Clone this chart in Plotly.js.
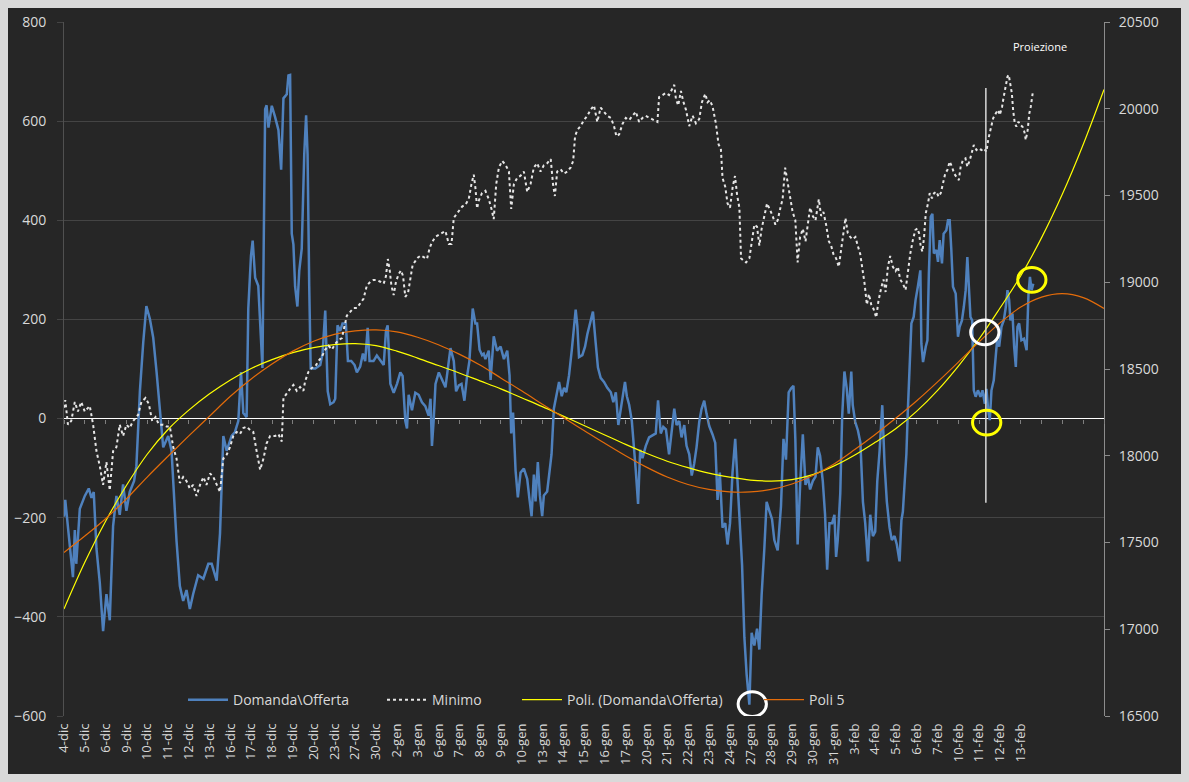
<!DOCTYPE html>
<html>
<head>
<meta charset="utf-8">
<script src="https://cdn.plot.ly/plotly-3.0.1.min.js"></script>
<style>
  html, body { margin: 0; padding: 0; background: #d9d9d9; }
  #chart { position: absolute; left: 8px; top: 8px; width: 1173px; height: 766px; }
</style>
</head>
<body>
<div id="chart"></div>
<script>
// day labels on the category axis (one per trading day)
var dayLabels = ["4-dic","5-dic","6-dic","9-dic","10-dic","11-dic","12-dic","13-dic","16-dic","17-dic",
  "18-dic","19-dic","20-dic","23-dic","27-dic","30-dic","2-gen","3-gen","6-gen","7-gen","8-gen","9-gen",
  "10-gen","13-gen","14-gen","15-gen","16-gen","17-gen","20-gen","21-gen","22-gen","23-gen","24-gen",
  "27-gen","28-gen","29-gen","30-gen","31-gen","3-feb","4-feb","5-feb","6-feb","7-feb","10-feb",
  "11-feb","12-feb","13-feb"];
var dayPos = dayLabels.map((d, i) => i);

// Domanda\Offerta: [day position, value] (left axis)
var domanda = [[0,-198],[0.06,-164],[0.43,-320],[0.52,-225],[0.59,-293],[0.76,-182],[1.00,-156],[1.19,-141],[1.32,-160],[1.43,-148],[1.56,-262],[1.72,-331],[1.88,-429],[2.04,-354],[2.20,-407],[2.36,-217],[2.52,-156],[2.68,-194],[2.84,-133],[3.00,-186],[3.16,-148],[3.37,-126],[3.48,-96],[3.65,56],[3.81,154],[3.96,227],[4.13,201],[4.29,163],[4.45,94],[4.61,11],[4.77,-58],[5.01,-35],[5.17,-65],[5.41,-247],[5.57,-338],[5.73,-368],[5.89,-346],[6.05,-384],[6.21,-354],[6.45,-316],[6.70,-323],[6.94,-293],[7.10,-293],[7.34,-327],[7.50,-232],[7.66,-35],[7.82,-65],[8.06,-35],[8.22,-27],[8.38,-5],[8.51,94],[8.62,11],[8.78,3],[8.86,222],[8.99,329],[9.07,359],[9.19,284],[9.34,268],[9.54,102],[9.67,624],[9.74,632],[9.83,587],[9.99,631],[10.15,608],[10.31,582],[10.44,502],[10.55,646],[10.71,654],[10.79,692],[10.87,693],[10.95,373],[11.03,351],[11.11,267],[11.22,226],[11.31,298],[11.43,343],[11.55,533],[11.64,612],[11.71,533],[11.79,267],[11.86,101],[12.08,101],[12.32,108],[12.43,131],[12.56,218],[12.68,55],[12.80,29],[12.96,33],[13.04,40],[13.15,188],[13.28,177],[13.39,192],[13.55,192],[13.65,116],[13.81,116],[13.97,108],[14.08,93],[14.24,105],[14.37,131],[14.48,116],[14.60,183],[14.69,116],[14.88,116],[15.04,127],[15.21,116],[15.37,108],[15.48,177],[15.56,188],[15.69,70],[15.85,52],[16.01,70],[16.17,93],[16.28,86],[16.41,-5],[16.49,-20],[16.57,48],[16.73,17],[16.89,52],[17.05,48],[17.21,33],[17.37,25],[17.53,6],[17.62,40],[17.69,-55],[17.77,-5],[17.86,70],[18.02,93],[18.17,78],[18.34,63],[18.58,142],[18.74,116],[18.85,55],[18.98,67],[19.11,70],[19.25,36],[19.38,86],[19.49,116],[19.65,222],[19.78,192],[19.86,192],[19.98,139],[20.10,128],[20.18,131],[20.26,120],[20.42,137],[20.51,78],[20.66,166],[20.82,137],[20.99,145],[21.15,120],[21.31,137],[21.42,87],[21.50,-30],[21.59,12],[21.71,-105],[21.82,-159],[21.95,-109],[22.11,-101],[22.27,-122],[22.38,-163],[22.48,-197],[22.59,-113],[22.67,-167],[22.78,-88],[22.88,-155],[22.99,-197],[23.07,-155],[23.23,-147],[23.35,-105],[23.44,-72],[23.55,20],[23.67,45],[23.80,74],[23.93,45],[24.04,62],[24.15,53],[24.28,87],[24.41,137],[24.52,178],[24.60,220],[24.68,187],[24.76,124],[24.92,128],[25.05,145],[25.16,170],[25.29,191],[25.43,216],[25.56,153],[25.67,103],[25.80,82],[25.96,74],[26.12,62],[26.29,53],[26.41,33],[26.53,53],[26.65,-13],[26.77,20],[26.88,53],[26.97,74],[27.06,45],[27.17,28],[27.30,-5],[27.41,-55],[27.49,-105],[27.60,-172],[27.70,-63],[27.81,-80],[27.97,-55],[28.13,-38],[28.29,-34],[28.45,-30],[28.56,37],[28.69,-30],[28.81,-17],[28.94,-22],[29.09,-72],[29.22,-22],[29.34,20],[29.45,-13],[29.58,-5],[29.69,-38],[29.82,-13],[29.93,-55],[30.06,-72],[30.18,-115],[30.30,-90],[30.41,-58],[30.54,-7],[30.65,19],[30.78,36],[30.89,10],[31.02,-15],[31.18,-32],[31.31,-49],[31.42,-164],[31.53,-109],[31.66,-220],[31.79,-211],[31.90,-254],[32.02,-211],[32.14,-109],[32.27,-41],[32.38,-126],[32.50,-211],[32.60,-296],[32.71,-441],[32.82,-517],[32.95,-577],[33.06,-432],[33.19,-458],[33.32,-424],[33.43,-466],[33.54,-356],[33.67,-262],[33.78,-168],[33.91,-186],[34.04,-203],[34.15,-245],[34.31,-266],[34.47,-177],[34.59,-41],[34.71,-83],[34.84,53],[34.96,61],[35.07,66],[35.16,-41],[35.27,-254],[35.40,-126],[35.52,-32],[35.65,-134],[35.76,-117],[35.87,-143],[36.00,-126],[36.13,-117],[36.24,-58],[36.35,-75],[36.48,-126],[36.59,-194],[36.69,-305],[36.80,-211],[36.93,-211],[37.04,-194],[37.12,-279],[37.20,-245],[37.32,-151],[37.41,2],[37.52,95],[37.63,61],[37.73,10],[37.85,95],[37.92,27],[38.04,-7],[38.17,-24],[38.29,-49],[38.41,-168],[38.52,-211],[38.65,-288],[38.76,-194],[38.89,-237],[39.00,-228],[39.10,-126],[39.21,-66],[39.34,27],[39.45,-92],[39.56,-168],[39.69,-220],[39.80,-245],[39.93,-237],[40.04,-254],[40.17,-288],[40.26,-205],[40.33,-188],[40.41,-124],[40.50,-71],[40.57,17],[40.66,124],[40.74,192],[40.85,205],[40.94,239],[41.05,266],[41.17,299],[41.22,151],[41.30,114],[41.43,145],[41.51,158],[41.58,292],[41.67,407],[41.75,413],[41.82,333],[41.94,340],[42.02,316],[42.10,360],[42.21,313],[42.29,373],[42.42,380],[42.50,400],[42.58,400],[42.66,340],[42.74,266],[42.87,252],[42.98,165],[43.06,185],[43.17,198],[43.26,225],[43.35,259],[43.43,326],[43.50,259],[43.58,205],[43.66,198],[43.74,57],[43.83,44],[43.94,57],[44.06,44],[44.16,57],[44.27,30],[44.35,60],[44.43,17],[44.51,-3],[44.59,57],[44.70,77],[44.78,118],[44.86,158],[44.96,145],[45.07,185],[45.18,198],[45.28,225],[45.36,259],[45.44,239],[45.50,198],[45.60,212],[45.68,145],[45.76,104],[45.84,185],[45.92,192],[46.03,158],[46.15,161],[46.28,138],[46.37,252],[46.44,286],[46.52,259],[46.60,272]];

// Minimo: [day position, value] (right axis)
var minimo = [[0,18277],[0.06,18321],[0.19,18179],[0.35,18201],[0.52,18310],[0.67,18255],[0.83,18310],[1.00,18255],[1.24,18287],[1.40,18179],[1.56,18027],[1.72,17941],[1.88,17832],[2.04,17964],[2.20,17800],[2.36,18027],[2.52,18050],[2.68,18179],[2.84,18114],[3.00,18179],[3.16,18160],[3.32,18200],[3.56,18235],[3.72,18310],[3.92,18333],[4.08,18298],[4.24,18200],[4.40,18223],[4.56,18179],[4.77,18179],[4.93,18168],[5.09,18168],[5.25,18050],[5.41,17984],[5.57,17843],[5.73,17877],[5.89,17854],[6.05,17811],[6.21,17832],[6.37,17768],[6.54,17832],[6.70,17877],[6.85,17832],[7.02,17898],[7.18,17877],[7.34,17832],[7.50,17791],[7.66,17984],[7.82,18006],[7.98,18050],[8.14,18114],[8.30,18137],[8.46,18125],[8.62,18160],[8.78,18168],[8.95,18148],[9.10,18137],[9.26,18027],[9.43,17919],[9.59,17984],[9.74,18071],[9.91,18114],[10.15,18114],[10.31,18125],[10.47,18082],[10.55,18333],[10.71,18363],[10.87,18385],[11.03,18408],[11.19,18374],[11.35,18396],[11.51,18374],[11.59,18428],[11.75,18483],[11.91,18506],[12.08,18515],[12.24,18547],[12.39,18569],[12.56,18612],[12.72,18634],[12.88,18612],[13.04,18645],[13.20,18667],[13.36,18678],[13.52,18765],[13.60,18808],[13.76,18829],[13.92,18851],[14.08,18851],[14.24,18877],[14.40,18905],[14.56,18981],[14.73,19003],[14.88,19013],[15.04,19013],[15.21,19003],[15.37,18992],[15.48,19036],[15.57,19134],[15.66,19068],[15.74,18981],[15.85,18926],[15.96,19003],[16.09,19047],[16.20,19068],[16.30,19036],[16.41,18916],[16.54,18938],[16.65,19024],[16.76,19099],[16.89,19122],[17.02,19143],[17.16,19154],[17.29,19143],[17.45,19134],[17.58,19197],[17.69,19230],[17.86,19262],[18.02,19273],[18.17,19284],[18.34,19295],[18.50,19220],[18.63,19220],[18.74,19371],[18.87,19393],[18.98,19414],[19.14,19436],[19.30,19447],[19.46,19480],[19.59,19566],[19.70,19620],[19.78,19544],[19.86,19425],[19.94,19470],[20.10,19515],[20.26,19527],[20.42,19480],[20.55,19423],[20.66,19364],[20.78,19566],[20.91,19662],[21.07,19699],[21.23,19676],[21.39,19638],[21.50,19423],[21.63,19566],[21.79,19602],[21.95,19614],[22.11,19638],[22.27,19520],[22.43,19566],[22.59,19662],[22.75,19686],[22.91,19638],[23.07,19674],[23.23,19686],[23.40,19710],[23.51,19566],[23.60,19497],[23.71,19638],[23.88,19650],[24.04,19626],[24.20,19638],[24.36,19662],[24.48,19699],[24.57,19841],[24.68,19878],[24.84,19901],[25.00,19935],[25.16,19959],[25.32,19995],[25.48,20019],[25.64,19924],[25.80,20007],[25.96,19984],[26.12,19959],[26.29,19947],[26.44,19901],[26.56,19841],[26.69,19852],[26.85,19912],[27.01,19947],[27.17,19935],[27.33,19959],[27.49,19983],[27.65,19924],[27.81,19947],[27.97,19959],[28.16,19947],[28.37,19935],[28.53,19924],[28.61,20067],[28.77,20079],[28.94,20091],[29.09,20079],[29.25,20114],[29.34,20138],[29.42,20056],[29.53,20019],[29.66,20102],[29.77,20043],[29.90,19995],[30.06,19900],[30.22,19960],[30.38,19916],[30.54,19941],[30.67,20038],[30.83,20086],[30.94,20038],[31.05,20050],[31.18,20014],[31.34,19916],[31.47,19794],[31.58,19770],[31.66,19601],[31.79,19551],[31.90,19454],[32.02,19430],[32.15,19551],[32.26,19612],[32.36,19503],[32.47,19430],[32.55,19138],[32.66,19126],[32.79,19114],[32.95,19138],[33.08,19261],[33.19,19332],[33.32,19320],[33.43,19211],[33.54,19308],[33.67,19382],[33.80,19454],[33.94,19418],[34.07,19382],[34.20,19332],[34.31,19357],[34.42,19418],[34.55,19480],[34.67,19661],[34.79,19575],[34.91,19503],[35.03,19405],[35.16,19357],[35.27,19114],[35.39,19261],[35.52,19308],[35.65,19236],[35.76,19320],[35.87,19430],[36.00,19382],[36.13,19357],[36.29,19479],[36.40,19382],[36.51,19405],[36.64,19332],[36.77,19236],[36.88,19211],[36.99,19163],[37.12,19138],[37.25,19089],[37.36,19186],[37.48,19261],[37.57,19370],[37.68,19284],[37.80,19261],[37.92,19248],[38.05,19261],[38.16,19211],[38.28,19163],[38.37,19089],[38.49,18992],[38.60,18871],[38.70,18932],[38.81,18871],[38.92,18846],[39.05,18797],[39.16,18895],[39.29,18968],[39.40,19016],[39.50,18944],[39.61,19089],[39.72,19151],[39.85,19089],[39.98,19065],[40.09,19089],[40.20,19016],[40.33,18992],[40.46,18955],[40.57,19071],[40.69,19167],[40.81,19243],[40.93,19301],[41.03,19311],[41.11,19282],[41.19,19205],[41.27,19176],[41.35,19263],[41.43,19397],[41.54,19455],[41.62,19513],[41.73,19484],[41.83,19513],[41.94,19522],[42.05,19493],[42.15,19513],[42.26,19570],[42.37,19628],[42.47,19647],[42.58,19695],[42.69,19666],[42.79,19628],[42.90,19608],[43.02,19589],[43.11,19666],[43.22,19705],[43.34,19714],[43.43,19666],[43.55,19705],[43.66,19762],[43.74,19791],[43.87,19762],[43.98,19772],[44.11,19762],[44.22,19772],[44.35,19752],[44.43,19820],[44.54,19877],[44.67,19945],[44.80,19974],[44.91,19993],[44.99,19964],[45.10,20012],[45.18,20070],[45.28,20127],[45.36,20185],[45.42,20195],[45.51,20127],[45.57,20089],[45.63,19993],[45.71,19916],[45.79,19897],[45.89,19925],[45.98,19906],[46.08,19897],[46.17,19868],[46.24,19820],[46.33,19877],[46.41,19974],[46.48,20012],[46.57,20089]];

// polynomial trend lines (one value per day, projected to day 50)
var poli = [-384,-290,-207,-135,-72,-22,17,50,78,101,119,133,143,149,151,147,136,122,107,92,76,60,42,24,5,
  -14,-33,-52,-70,-86,-99,-110,-118,-124,-126,-123,-113,-96,-74,-48,-20,15,57,106,161,223,288,365,453,553,664];
var poli5 = [-270,-237,-202,-162,-118,-76,-35,5,45,80,110,136,156,170,177,179,175,164,149,130,108,82,56,29,2,
  -24,-50,-75,-98,-118,-133,-143,-148,-148,-143,-132,-115,-92,-63,-32,1,36,74,114,155,193,225,245,252,244,222];
var trendDays = poli.map((v, i) => i);

// markers drawn on the chart
var cutDay = 44.32;
var circles = [
  {x: 44.27, y: 174, color: "#ffffff"},
  {x: 44.36, y: -8, color: "#ffff00"},
  {x: 46.53, y: 280, color: "#ffff00"},
  {x: 33.09, y: -576, color: "#ffffff"}
];

var txt = "#d9d9d9";
var fontFam = "'Open Sans', 'Noto Sans', sans-serif";

var traces = [
  {x: domanda.map(p => p[0]), y: domanda.map(p => p[1]), name: "Domanda\\Offerta", legend: "legend",
   type: "scatter", mode: "lines", line: {color: "#4f81bd", width: 2.5}},
  {x: minimo.map(p => p[0]), y: minimo.map(p => p[1]), name: "Minimo", yaxis: "y2", legend: "legend2",
   type: "scatter", mode: "lines", line: {color: "#e6e6e6", width: 2, dash: "dot"}},
  {x: trendDays, y: poli, name: "Poli. (Domanda\\Offerta)", legend: "legend3",
   type: "scatter", mode: "lines", line: {color: "#ffff00", width: 1.2, shape: "spline"}},
  {x: trendDays, y: poli5, name: "Poli 5", legend: "legend4",
   type: "scatter", mode: "lines", line: {color: "#e46c0a", width: 1.2, shape: "spline"}},
  // carrier for the tick marks on the zero line
  {x: [0, 50], y: [null, null], xaxis: "x2", showlegend: false, hoverinfo: "skip", mode: "lines"}
];

var shapes = [{type: "line", xref: "x", yref: "y", x0: cutDay, x1: cutDay, y0: -170, y1: 667,
  line: {color: "#d9d9d9", width: 1.5}}];
circles.forEach(c => shapes.push({type: "circle", xref: "x", yref: "y",
  x0: c.x - 0.68, x1: c.x + 0.68, y0: c.y - 25, y1: c.y + 25,
  line: {color: c.color, width: 3}}));

function legendAt(px) {
  return {orientation: "h", x: (px - 64) / 1040, xanchor: "left", y: 0.023, yanchor: "middle",
          bgcolor: "rgba(0,0,0,0)", itemwidth: 40, font: {size: 14, color: txt}};
}

var layout = {
  width: 1173, height: 766,
  paper_bgcolor: "#262626", plot_bgcolor: "#262626",
  margin: {l: 56, r: 77, t: 14, b: 58},
  font: {family: fontFam, size: 13, color: txt},
  showlegend: true,
  legend: legendAt(183), legend2: legendAt(382), legend3: legendAt(517), legend4: legendAt(759),
  xaxis: {range: [0, 50], tickvals: dayPos, ticktext: dayLabels, tickangle: -90,
          showgrid: false, zeroline: false, showline: false, ticks: "", ticklabelstandoff: 4,
          tickfont: {size: 13, color: txt}},
  xaxis2: {range: [0, 50], overlaying: "x", anchor: "free", position: 600 / 1400,
           dtick: 1, tick0: 0, ticks: "outside", ticklen: 4, tickcolor: "#7f7f7f",
           showticklabels: false, showgrid: false, zeroline: false, showline: false},
  yaxis: {range: [-600, 800], dtick: 200, gridcolor: "#444444", gridwidth: 1,
          zeroline: true, zerolinecolor: "#ffffff", zerolinewidth: 1.5,
          showline: true, linecolor: "#505050", ticks: "outside", ticklen: 6, tickcolor: "#444444",
          ticklabelstandoff: 8, tickfont: {size: 14, color: txt}},
  yaxis2: {range: [16500, 20500], dtick: 500, tickformat: "d", overlaying: "y", side: "right",
           showgrid: false, zeroline: false, showline: true, linecolor: "#8c8c8c",
           ticks: "outside", ticklen: 5, tickcolor: "#8c8c8c", ticklabelstandoff: 6,
           tickfont: {size: 14, color: txt}},
  shapes: shapes,
  annotations: [{text: "Proiezione", xref: "paper", yref: "paper", x: 0.9385, y: 0.965,
                 xanchor: "center", yanchor: "middle",
                 showarrow: false, font: {size: 11, color: "#ffffff"}}]
};

Plotly.newPlot("chart", traces, layout, {staticPlot: true});
</script>
</body>
</html>
